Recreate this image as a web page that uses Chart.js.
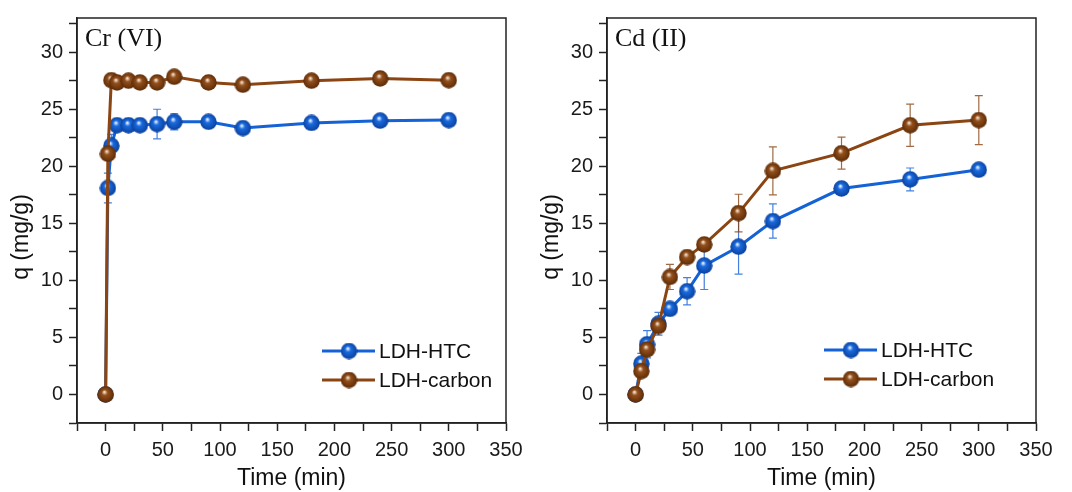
<!DOCTYPE html>
<html>
<head>
<meta charset="utf-8">
<script src="https://cdn.jsdelivr.net/npm/chart.js@4"></script>
<style>
  body { margin: 0; background: #fff; width: 1072px; height: 492px; position: relative; overflow: hidden; }
  .panel { position: absolute; top: 0; width: 536px; height: 492px; }
</style>
</head>
<body>
<div class="panel" style="left:0"><canvas id="crChart" width="536" height="492"></canvas></div>
<div class="panel" style="left:530px"><canvas id="cdChart" width="536" height="492"></canvas></div>
<script>
// Cr (VI) kinetics
const crTimes = [0, 2, 5, 10, 20, 30, 45, 60, 90, 120, 180, 240, 300];
const crHTC = [0, 18.1, 21.8, 23.6, 23.6, 23.6, 23.7, 23.9, 23.9, 23.35, 23.8, 24.0, 24.05];
const crHTCErr = [0, 1.3, 1.0, 0.3, 0.3, 0.3, 1.3, 0.7, 0.3, 0.3, 0.4, 0.3, 0.3];
const crCarbon = [0, 21.1, 27.55, 27.35, 27.5, 27.35, 27.35, 27.85, 27.35, 27.15, 27.5, 27.7, 27.55];
const crCarbonErr = [0, 0.5, 0.2, 0.2, 0.2, 0.2, 0.2, 0.2, 0.2, 0.2, 0.2, 0.2, 0.2];

// Cd (II) kinetics
const cdTimes = [0, 5, 10, 20, 30, 45, 60, 90, 120, 180, 240, 300];
const cdHTC = [0, 2.7, 4.4, 6.2, 7.5, 9.05, 11.3, 12.95, 15.2, 18.05, 18.85, 19.7];
const cdHTCErr = [0, 0.9, 1.2, 1.0, 0.3, 1.2, 2.1, 2.4, 1.5, 0.3, 1.0, 0.4];
const cdCarbon = [0, 2.05, 3.95, 6.0, 10.3, 12.05, 13.15, 15.9, 19.6, 21.15, 23.6, 24.05];
const cdCarbonErr = [0, 0.3, 0.4, 0.4, 1.1, 0.3, 0.5, 1.65, 2.1, 1.4, 1.85, 2.15];

const seriesNames = ['LDH-HTC', 'LDH-carbon'];

const BLUE = '#1462d6';
const BROWN = '#8a4513';
const SANS = "'Liberation Sans', Arial, sans-serif";
const SERIF = "'Liberation Serif', 'Times New Roman', serif";

// shaded ball used as marker
function makeBall(light, base, dark, d) {
  const c = document.createElement('canvas');
  c.width = c.height = d;
  const g = c.getContext('2d');
  const r = d / 2;
  const grad = g.createRadialGradient(r * 0.85, r * 0.7, r * 0.05, r, r, r);
  grad.addColorStop(0, light);
  grad.addColorStop(0.3, base);
  grad.addColorStop(1, dark);
  g.fillStyle = grad;
  g.beginPath();
  g.arc(r, r, r - 0.3, 0, Math.PI * 2);
  g.fill();
  return c;
}
const blueBall = makeBall('#e8f2ff', '#1a6be0', '#0a3f9a', 17);
const brownBall = makeBall('#f3e2d0', '#94501c', '#5a2a06', 17);

function toPoints(xs, ys) {
  return xs.map((x, i) => ({ x: x, y: ys[i] }));
}

function makeDataset(label, xs, ys, errs, color, ball, order) {
  return {
    label: label,
    data: toPoints(xs, ys),
    errors: errs,
    borderColor: color,
    borderWidth: 3,
    pointStyle: ball,
    pointRadius: 8,
    errColor: color,
    order: order
  };
}

// error bars, frame, panel name, y title and legend
const panelDecor = {
  id: 'panelDecor',
  beforeDatasetsDraw(chart) {
    const ctx = chart.ctx;
    const xs = chart.scales.x, ys = chart.scales.y;
    ctx.save();
    chart.data.datasets.forEach(ds => {
      ctx.strokeStyle = ds.errColor;
      ctx.globalAlpha = 0.8;
      ctx.lineWidth = 1.2;
      ds.data.forEach((p, i) => {
        const e = ds.errors[i];
        if (!e) return;
        const px = xs.getPixelForValue(p.x);
        const top = ys.getPixelForValue(p.y + e);
        const bot = ys.getPixelForValue(p.y - e);
        ctx.beginPath();
        ctx.moveTo(px, top); ctx.lineTo(px, bot);
        ctx.moveTo(px - 4, top); ctx.lineTo(px + 4, top);
        ctx.moveTo(px - 4, bot); ctx.lineTo(px + 4, bot);
        ctx.stroke();
      });
    });
    ctx.restore();
  },
  afterDraw(chart, args, opts) {
    const ctx = chart.ctx;
    const a = chart.chartArea;
    ctx.save();
    // box frame
    ctx.strokeStyle = '#222';
    ctx.lineWidth = 1.5;
    ctx.strokeRect(a.left, a.top, a.right - a.left, a.bottom - a.top);

    // panel name
    ctx.fillStyle = '#111';
    ctx.font = '26px ' + SERIF;
    ctx.textBaseline = 'alphabetic';
    ctx.textAlign = 'left';
    ctx.fillText(opts.name, a.left + 8, a.top + 28);

    // y axis title
    ctx.save();
    ctx.translate(22, 237);
    ctx.rotate(-Math.PI / 2);
    ctx.font = '23px ' + SANS;
    ctx.textAlign = 'center';
    ctx.textBaseline = 'middle';
    ctx.fillText('q (mg/g)', 0, 0);
    ctx.restore();

    // legend
    const lx = a.left + opts.legendX;
    chart.data.datasets.forEach((ds, i) => {
      const ly = opts.legendY + i * 29;
      ctx.strokeStyle = ds.borderColor;
      ctx.lineWidth = 3;
      ctx.beginPath();
      ctx.moveTo(lx, ly); ctx.lineTo(lx + 53, ly);
      ctx.stroke();
      ctx.drawImage(ds.pointStyle, lx + 27 - 8.5, ly - 8.5);
      ctx.fillStyle = '#111';
      ctx.font = '21px ' + SANS;
      ctx.textAlign = 'left';
      ctx.textBaseline = 'middle';
      ctx.fillText(ds.label, lx + 57, ly + 1);
    });
    ctx.restore();
  }
};

function makeOptions(name, legendX, legendY) {
  return {
    responsive: false,
    animation: false,
    layout: { padding: { top: 15, right: 30, left: 0, bottom: 0 } },
    plugins: {
      legend: { display: false },
      tooltip: { enabled: false },
      panelDecor: { name: name, legendX: legendX, legendY: legendY }
    },
    scales: {
      x: {
        type: 'linear',
        min: -25,
        max: 350,
        ticks: {
          stepSize: 25,
          includeBounds: false,
          autoSkip: false,
          maxRotation: 0,
          padding: 7,
          color: '#1a1a1a',
          font: { family: SANS, size: 20 },
          callback: v => (v % 50 === 0 ? v : '')
        },
        grid: { drawOnChartArea: false, tickLength: 8, tickColor: '#222', tickWidth: 1.5 },
        border: { color: '#222', width: 1.5 },
        title: {
          display: true,
          text: 'Time (min)',
          color: '#111',
          font: { family: SANS, size: 23 },
          padding: { top: 0, bottom: 0 }
        },
        afterFit: s => { s.height = 69; }
      },
      y: {
        min: -2.5,
        max: 33,
        ticks: {
          stepSize: 2.5,
          includeBounds: false,
          autoSkip: false,
          padding: 6,
          color: '#1a1a1a',
          font: { family: SANS, size: 20 },
          callback: v => (v % 5 === 0 ? v : '')
        },
        grid: { drawOnChartArea: false, tickLength: 8, tickColor: '#222', tickWidth: 1.5 },
        border: { color: '#222', width: 1.5 },
        afterFit: s => { s.width = 77; }
      }
    }
  };
}

new Chart(document.getElementById('crChart'), {
  type: 'line',
  data: {
    datasets: [
      makeDataset(seriesNames[0], crTimes, crHTC, crHTCErr, BLUE, blueBall, 1),
      makeDataset(seriesNames[1], crTimes, crCarbon, crCarbonErr, BROWN, brownBall, 0)
    ]
  },
  options: makeOptions('Cr (VI)', 245, 351),
  plugins: [panelDecor]
});

new Chart(document.getElementById('cdChart'), {
  type: 'line',
  data: {
    datasets: [
      makeDataset(seriesNames[0], cdTimes, cdHTC, cdHTCErr, BLUE, blueBall, 1),
      makeDataset(seriesNames[1], cdTimes, cdCarbon, cdCarbonErr, BROWN, brownBall, 0)
    ]
  },
  options: makeOptions('Cd (II)', 217, 350),
  plugins: [panelDecor]
});
</script>
</body>
</html>
